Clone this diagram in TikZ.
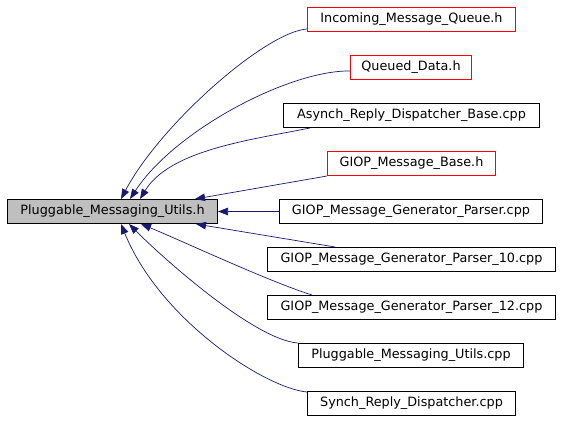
\documentclass[tikz,border=0pt]{standalone}
\usepackage{fontspec}
\setmainfont{DejaVu Sans}
\usepackage{tikz}
\usetikzlibrary{arrows.meta}
\definecolor{edgeblue}{RGB}{25, 25, 112}
\definecolor{boxgray}{RGB}{191, 191, 191}
\definecolor{boxred}{RGB}{255, 0, 0}

\begin{document}
\begin{tikzpicture}[x=1pt, y=-1pt,
    file/.style={draw, line width=1pt, inner xsep=4pt, inner ysep=0pt,
      minimum height=24pt, minimum width=#1, font=\fontsize{12.8}{15}\selectfont},
    file/.default=100pt,
    header/.style={file=#1, draw=boxred},
    dep/.style={draw=edgeblue, line width=0.7pt,
      -{Triangle[length=10pt, width=7.5pt]}}]
  \useasboundingbox (0, 0) rectangle (563, 421);

  \node[file=210pt, fill=boxgray] (utils) at (112.5, 211.5) {Pluggable\_Messaging\_Utils.h};

  \node[header=208pt] (inq) at (411.5, 19.5) {Incoming\_Message\_Queue.h};
  \node[header=121pt] (qdata) at (411, 67.5) {Queued\_Data.h};
  \node[file=256pt] (ardb) at (411.5, 115.5) {Asynch\_Reply\_Dispatcher\_Base.cpp};
  \node[header=168pt] (gmb) at (411.5, 163.5) {GIOP\_Message\_Base.h};
  \node[file=263pt] (gmgp) at (411, 211.5) {GIOP\_Message\_Generator\_Parser.cpp};
  \node[file=288pt] (gmgpten) at (411.5, 259.5) {GIOP\_Message\_Generator\_Parser\_10.cpp};
  \node[file=288pt] (gmgptwelve) at (411.5, 307.5) {GIOP\_Message\_Generator\_Parser\_12.cpp};
  \node[file=225pt] (pmu) at (411, 355.5) {Pluggable\_Messaging\_Utils.cpp};
  \node[file=208pt] (srd) at (411.5, 403.5) {Synch\_Reply\_Dispatcher.cpp};

  % edges into the top of the header box
  \draw[dep] ([yshift=3pt]inq.south west) .. controls (265, 32) and (160, 125)
    .. ([xshift=8.5pt]utils.north);
  \draw[dep] ([yshift=-3.5pt]qdata.west) .. controls (290, 70) and (175, 130)
    .. ([xshift=17.5pt]utils.north);
  \draw[dep] ([xshift=27pt]ardb.south west) .. controls (250, 140) and (170, 150)
    .. ([xshift=27.5pt]utils.north);
  \draw[dep] (gmb.south west) -- ([xshift=82.5pt]utils.north);

  \draw[dep] (gmgp.west) -- (utils.east);

  % edges into the bottom of the header box
  \draw[dep] ([xshift=68pt]gmgpten.north west) -- ([xshift=83.5pt]utils.south);
  \draw[dep] ([xshift=45pt]gmgptwelve.north west) .. controls (270, 282) and (180, 240)
    .. ([xshift=28.5pt]utils.south);
  \draw[dep] (pmu.north west) .. controls (255, 340) and (165, 260)
    .. ([xshift=16.5pt]utils.south);
  \draw[dep] ([yshift=-1pt]srd.north west) .. controls (265, 388) and (160, 320)
    .. ([xshift=8.5pt]utils.south);
\end{tikzpicture}
\end{document}
